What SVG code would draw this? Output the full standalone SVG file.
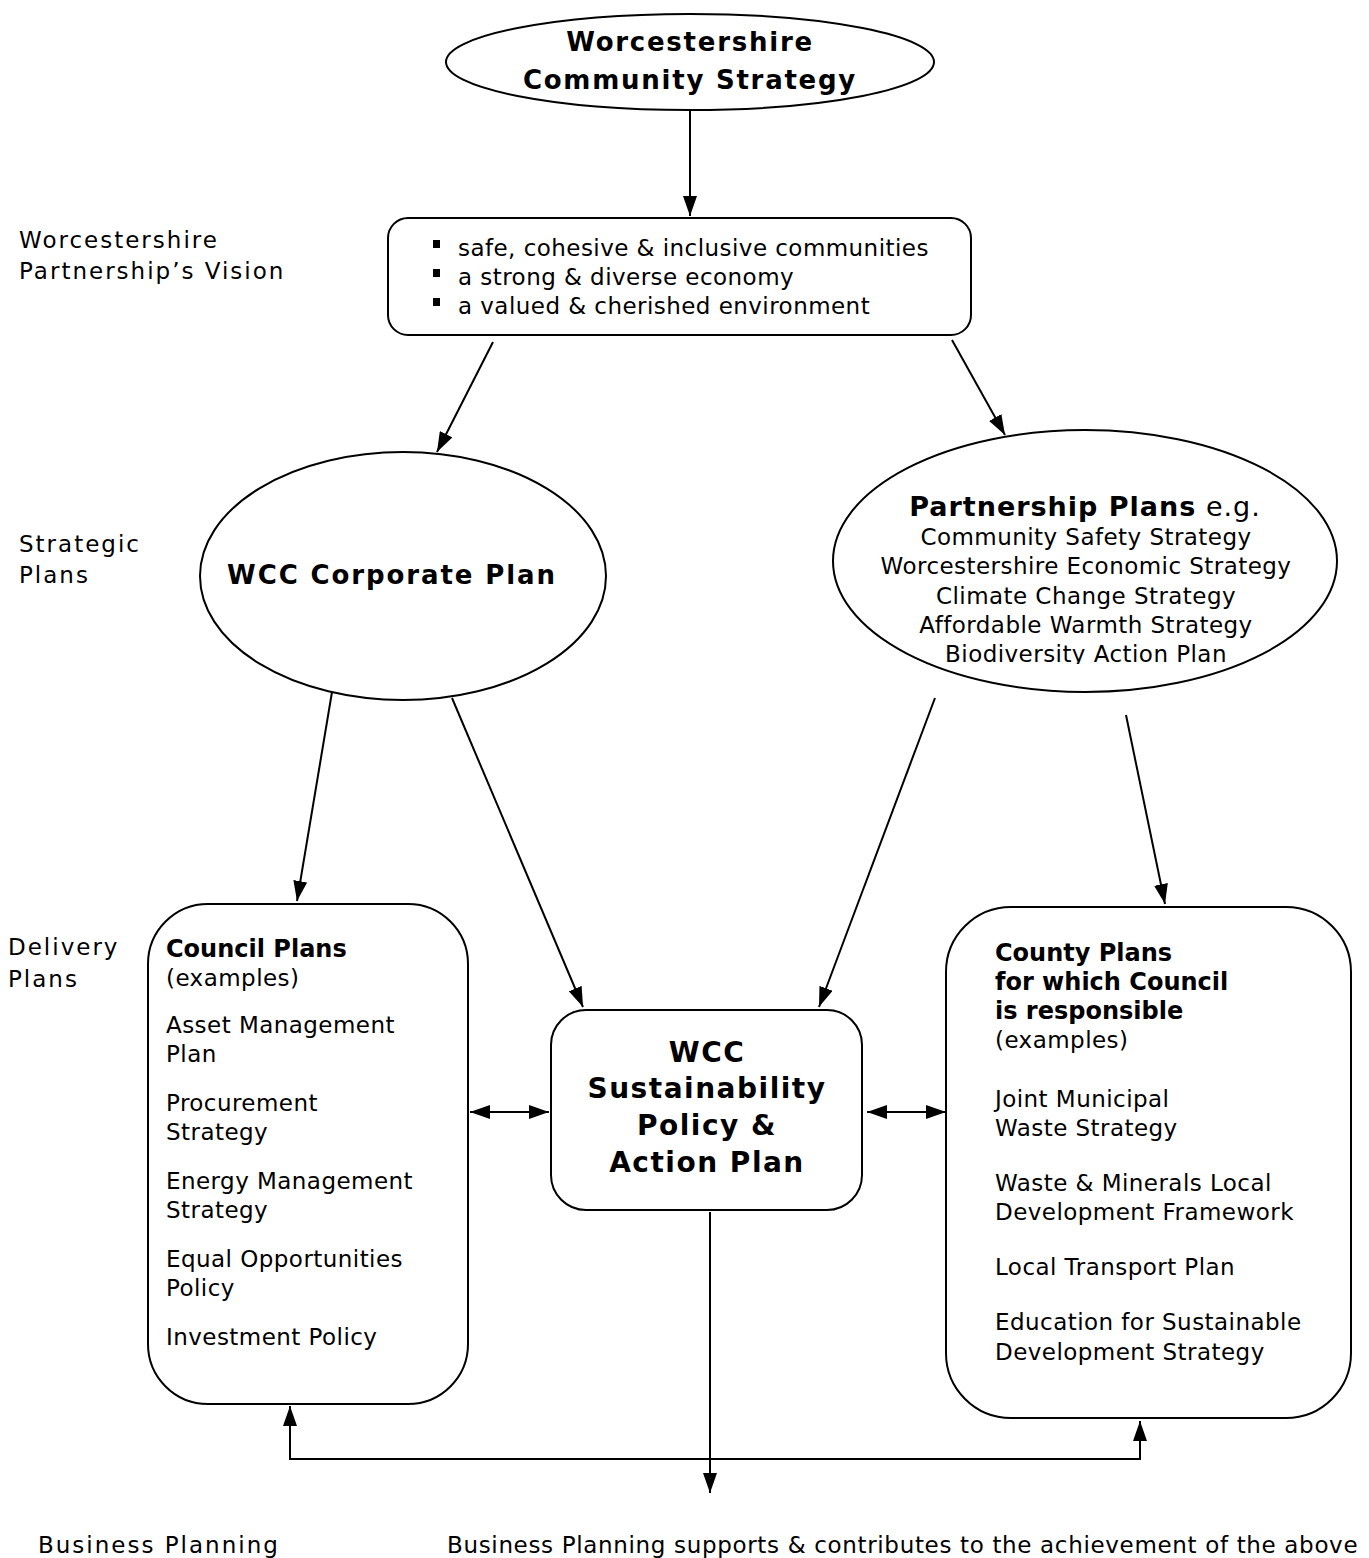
<svg xmlns="http://www.w3.org/2000/svg" width="1369" height="1558" viewBox="0 0 1369 1558">
<defs>
<style>
.t{font-family:"DejaVu Sans",Verdana,sans-serif;font-size:23px;letter-spacing:0.45px;fill:#000}
.lab{font-family:"DejaVu Sans",Verdana,sans-serif;font-size:23px;letter-spacing:2px;fill:#000}
.b{font-family:"DejaVu Sans",Verdana,sans-serif;font-size:24px;font-weight:bold;fill:#000}
.title{font-family:"DejaVu Sans",Verdana,sans-serif;font-size:26px;font-weight:bold;letter-spacing:1.75px;fill:#000}
.mid{font-family:"DejaVu Sans",Verdana,sans-serif;font-size:28px;font-weight:bold;letter-spacing:1.5px;fill:#000}
.shape{fill:#fff;stroke:#000;stroke-width:2}
.c{stroke:#000;stroke-width:2;fill:none}
</style>
<marker id="ah" viewBox="0 0 20 14" refX="20" refY="7" markerWidth="20" markerHeight="14" markerUnits="userSpaceOnUse" orient="auto-start-reverse">
<path d="M0,0 L20,7 L0,14 Z" fill="#000"/>
</marker>
<clipPath id="pclip"><rect x="833" y="420" width="510" height="244"/></clipPath>
</defs>
<rect width="1369" height="1558" fill="#fff"/>

<g id="labels">
<text class="lab" x="19" y="248">Worcestershire</text>
<text class="lab" x="19" y="279">Partnership’s Vision</text>
<text class="lab" x="19" y="552">Strategic</text>
<text class="lab" x="19" y="583">Plans</text>
<text class="lab" x="8" y="955">Delivery</text>
<text class="lab" x="8" y="987">Plans</text>
<text class="lab" x="38" y="1553">Business Planning</text>
<text class="t" x="447" y="1553" textLength="911" lengthAdjust="spacing">Business Planning supports &amp; contributes to the achievement of the above</text>
</g>

<g id="connectors">
<line class="c" x1="690" y1="110" x2="690" y2="216" marker-end="url(#ah)"/>
<line class="c" x1="493" y1="342" x2="437" y2="452" marker-end="url(#ah)"/>
<line class="c" x1="952" y1="340" x2="1005" y2="435" marker-end="url(#ah)"/>
<line class="c" x1="332" y1="692" x2="297" y2="901" marker-end="url(#ah)"/>
<line class="c" x1="452" y1="698" x2="583" y2="1007" marker-end="url(#ah)"/>
<line class="c" x1="935" y1="698" x2="819" y2="1007" marker-end="url(#ah)"/>
<line class="c" x1="1126" y1="715" x2="1165" y2="904" marker-end="url(#ah)"/>
<line class="c" x1="470" y1="1112" x2="549" y2="1112" marker-start="url(#ah)" marker-end="url(#ah)"/>
<line class="c" x1="867" y1="1112" x2="946" y2="1112" marker-start="url(#ah)" marker-end="url(#ah)"/>
<line class="c" x1="710" y1="1212" x2="710" y2="1493" marker-end="url(#ah)"/>
<polyline class="c" points="290,1406 290,1459 1140,1459 1140,1421" marker-start="url(#ah)" marker-end="url(#ah)"/>
</g>

<g id="community-strategy">
<ellipse class="shape" cx="690" cy="62" rx="244" ry="48"/>
<text class="title" x="690" y="51" text-anchor="middle">Worcestershire</text>
<text class="title" x="690" y="89" text-anchor="middle">Community Strategy</text>
</g>

<g id="vision">
<rect class="shape" x="388" y="218" width="583" height="117" rx="20"/>
<rect x="433" y="240" width="7" height="8" fill="#000"/>
<rect x="433" y="269" width="7" height="8" fill="#000"/>
<rect x="433" y="298" width="7" height="8" fill="#000"/>
<text class="t" x="458" y="256">safe, cohesive &amp; inclusive communities</text>
<text class="t" x="458" y="285">a strong &amp; diverse economy</text>
<text class="t" x="458" y="314">a valued &amp; cherished environment</text>
</g>

<g id="corporate-plan">
<ellipse class="shape" cx="403" cy="576" rx="203" ry="124"/>
<text class="title" x="392" y="584" text-anchor="middle" style="letter-spacing:1.9px">WCC Corporate Plan</text>
</g>

<g id="partnership-plans">
<ellipse class="shape" cx="1085" cy="561" rx="252" ry="131"/>
<g clip-path="url(#pclip)" text-anchor="middle">
<text x="1085" y="516"><tspan class="b" style="font-size:27px;letter-spacing:1px">Partnership Plans</tspan><tspan class="t" style="font-size:27px;letter-spacing:1px"> e.g.</tspan></text>
<text class="t" x="1086" y="545">Community Safety Strategy</text>
<text class="t" x="1086" y="574">Worcestershire Economic Strategy</text>
<text class="t" x="1086" y="604">Climate Change Strategy</text>
<text class="t" x="1086" y="633">Affordable Warmth Strategy</text>
<text class="t" x="1086" y="662">Biodiversity Action Plan</text>
</g>
</g>

<g id="council-plans">
<rect class="shape" x="148" y="904" width="320" height="500" rx="60"/>
<text class="b" x="166" y="957">Council Plans</text>
<text class="t" x="166" y="986">(examples)</text>
<text class="t" x="166" y="1033">Asset Management</text>
<text class="t" x="166" y="1062">Plan</text>
<text class="t" x="166" y="1111">Procurement</text>
<text class="t" x="166" y="1140">Strategy</text>
<text class="t" x="166" y="1189">Energy Management</text>
<text class="t" x="166" y="1218">Strategy</text>
<text class="t" x="166" y="1267">Equal Opportunities</text>
<text class="t" x="166" y="1296">Policy</text>
<text class="t" x="166" y="1345">Investment Policy</text>
</g>

<g id="sustainability-policy">
<rect class="shape" x="551" y="1010" width="311" height="200" rx="35"/>
<text class="mid" x="707" y="1062" text-anchor="middle">WCC</text>
<text class="mid" x="707" y="1098" text-anchor="middle">Sustainability</text>
<text class="mid" x="707" y="1135" text-anchor="middle">Policy &amp;</text>
<text class="mid" x="707" y="1172" text-anchor="middle">Action Plan</text>
</g>

<g id="county-plans">
<rect class="shape" x="946" y="907" width="405" height="511" rx="65"/>
<text class="b" x="995" y="961">County Plans</text>
<text class="b" x="995" y="990">for which Council</text>
<text class="b" x="995" y="1019">is responsible</text>
<text class="t" x="995" y="1048">(examples)</text>
<text class="t" x="995" y="1107">Joint Municipal</text>
<text class="t" x="995" y="1136">Waste Strategy</text>
<text class="t" x="995" y="1191">Waste &amp; Minerals Local</text>
<text class="t" x="995" y="1220">Development Framework</text>
<text class="t" x="995" y="1275">Local Transport Plan</text>
<text class="t" x="995" y="1330">Education for Sustainable</text>
<text class="t" x="995" y="1360">Development Strategy</text>
</g>
</svg>
